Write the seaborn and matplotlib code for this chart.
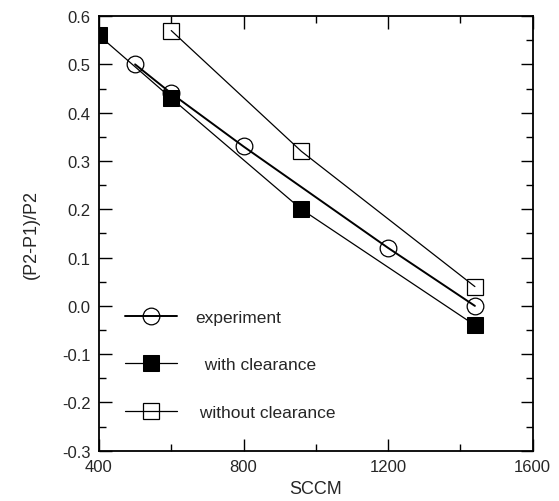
import pandas as pd
import matplotlib
matplotlib.use('Agg')
import matplotlib.pyplot as plt
import seaborn as sns
from matplotlib.ticker import MultipleLocator, FormatStrFormatter

# 데이터
exp_x = [500, 600, 800, 1200, 1440]
exp_y = [0.50, 0.44, 0.33, 0.12, 0.00]
with_x = [400, 600, 960, 1440]
with_y = [0.56, 0.43, 0.20, -0.04]
without_x = [600, 960, 1440]
without_y = [0.57, 0.32, 0.04]

sns.set_style('ticks')
plt.rcParams['font.family'] = ['Liberation Sans', 'DejaVu Sans']

fig, ax = plt.subplots(figsize=(5.59, 5.02), dpi=100)
fig.subplots_adjust(left=0.177, right=0.953, top=0.966, bottom=0.10)

df_exp = pd.DataFrame({'x': exp_x, 'y': exp_y})
df_with = pd.DataFrame({'x': with_x, 'y': with_y})
df_without = pd.DataFrame({'x': without_x, 'y': without_y})

sns.lineplot(data=df_with, x='x', y='y', ax=ax, color='black', lw=0.9,
             marker='s', markersize=12, markerfacecolor='black',
             markeredgecolor='black', label='  with clearance')
sns.lineplot(data=df_exp, x='x', y='y', ax=ax, color='black', lw=1.4,
             marker='o', markersize=12, markerfacecolor='none',
             markeredgecolor='black', markeredgewidth=0.9, label='experiment')
sns.lineplot(data=df_without, x='x', y='y', ax=ax, color='black', lw=0.9,
             marker='s', markersize=12, markerfacecolor='none',
             markeredgecolor='black', markeredgewidth=0.9, label=' without clearance')

ax.set_xlim(400, 1600)
ax.set_ylim(-0.3, 0.6)
ax.xaxis.set_major_locator(MultipleLocator(400))
ax.xaxis.set_minor_locator(MultipleLocator(200))
ax.yaxis.set_major_locator(MultipleLocator(0.1))
ax.yaxis.set_minor_locator(MultipleLocator(0.05))
ax.yaxis.set_major_formatter(FormatStrFormatter('%.1f'))
ax.tick_params(which='both', direction='in', top=True, right=True,
               labelsize=12, color='black', width=1.0, pad=6)
ax.tick_params(which='major', length=9)
ax.tick_params(which='minor', length=5)
for s in ax.spines.values():
    s.set_linewidth(1.3)
    s.set_color('black')

ax.set_xlabel('SCCM', fontsize=13, labelpad=4)
ax.set_ylabel('(P2-P1)/P2', fontsize=13, labelpad=16)

h, l = ax.get_legend_handles_labels()
order = [1, 0, 2]
ax.legend([h[i] for i in order], [l[i] for i in order], frameon=False,
          loc='upper left', bbox_to_anchor=(0.025, 0.36), handlelength=3.0,
          labelspacing=1.85, handletextpad=1.0, fontsize=12.5)

fig.savefig('out.png', dpi=100)
